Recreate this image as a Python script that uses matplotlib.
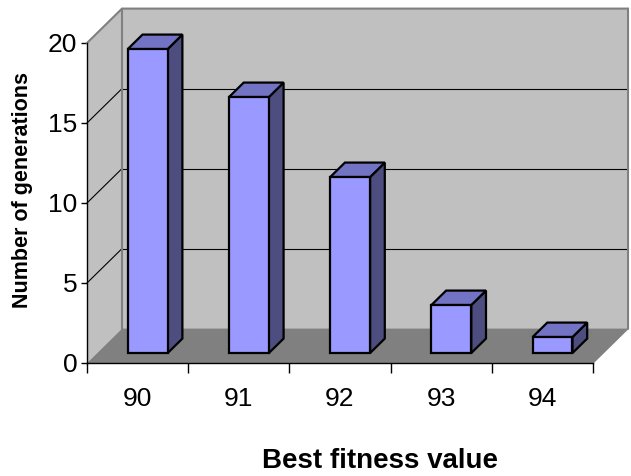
import matplotlib
matplotlib.use("Agg")
import matplotlib.pyplot as plt
from matplotlib.patches import Polygon

# Data
categories = ["90", "91", "92", "93", "94"]
generations = [19, 16, 11, 3, 1]
y_ticks = [0, 5, 10, 15, 20]

# Style
FONT = "Liberation Sans"
WALL = "#C0C0C0"
FLOOR = "#808080"
EDGE = "#808080"
BAR_FRONT = "#9999FF"
BAR_TOP = "#7373C4"
BAR_SIDE = "#4D4D80"

# Oblique projection of the depth axis (full depth in data units)
DX = 0.346   # along categories
DY = 2.15    # along values
Z0, Z1 = 0.29, 0.71   # bar depth span (fraction of full depth)
HALF_W = 0.197         # half bar width in category units

fig = plt.figure(figsize=(6.31, 4.76), dpi=100)
W, H = 631, 476
ax = fig.add_axes([87 / W, (H - 363) / H, 506 / W, 320 / H])
ax.set_xlim(-0.5, len(categories) - 0.5)
ax.set_ylim(y_ticks[0], y_ticks[-1])
ax.patch.set_visible(False)


def proj(x, y, z):
    return (x + z * DX, y + z * DY)


def poly(pts, fc, ec="none", lw=0.0, z=1):
    p = Polygon(pts, closed=True, facecolor=fc, edgecolor=ec, linewidth=lw,
                joinstyle="miter", clip_on=False, zorder=z)
    ax.add_patch(p)


x0, x1 = -0.5, len(categories) - 0.5
y0, y1 = y_ticks[0], y_ticks[-1]

# Back wall
poly([proj(x0, y0, 1), proj(x1, y0, 1), proj(x1, y1, 1), proj(x0, y1, 1)], WALL, z=1)
# Left wall
poly([proj(x0, y0, 0), proj(x0, y0, 1), proj(x0, y1, 1), proj(x0, y1, 0)], WALL, z=1)
# Floor
poly([proj(x0, y0, 0), proj(x1, y0, 0), proj(x1, y0, 1), proj(x0, y0, 1)], FLOOR, z=1.5)

# Gridlines on the walls
for v in y_ticks[1:-1]:
    bx, by = zip(proj(x0, v, 1), proj(x1, v, 1))
    ax.plot(bx, by, color="black", lw=0.8, clip_on=False, zorder=2)
    lx, ly = zip(proj(x0, v, 0), proj(x0, v, 1))
    ax.plot(lx, ly, color="black", lw=0.8, clip_on=False, zorder=2)

# Wall borders
border = [proj(x0, y1, 0), proj(x0, y1, 1), proj(x1, y1, 1), proj(x1, y0, 1)]
bx, by = zip(*border)
ax.plot(bx, by, color=EDGE, lw=1.5, clip_on=False, zorder=2.5, solid_joinstyle="miter")
cx, cy = zip(proj(x0, y0, 1), proj(x0, y1, 1))
ax.plot(cx, cy, color=EDGE, lw=1.5, clip_on=False, zorder=2.5)
fx, fy = zip(proj(x1, y0, 0), proj(x1, y0, 1))
ax.plot(fx, fy, color=EDGE, lw=1.0, clip_on=False, zorder=2.5)

# Bars as boxes
for i, v in enumerate(generations):
    l, r = i - HALF_W, i + HALF_W
    front = [proj(l, 0, Z0), proj(r, 0, Z0), proj(r, v, Z0), proj(l, v, Z0)]
    top = [proj(l, v, Z0), proj(r, v, Z0), proj(r, v, Z1), proj(l, v, Z1)]
    side = [proj(r, 0, Z0), proj(r, 0, Z1), proj(r, v, Z1), proj(r, v, Z0)]
    poly(side, BAR_SIDE, "black", 1.6, z=3)
    poly(top, BAR_TOP, "black", 1.6, z=3)
    poly(front, BAR_FRONT, "black", 1.6, z=3.1)

# Front axes
for s in ("top", "right"):
    ax.spines[s].set_visible(False)
for s in ("left", "bottom"):
    ax.spines[s].set_color("black")
    ax.spines[s].set_linewidth(1.0)
    ax.spines[s].set_zorder(4)

ax.set_yticks(y_ticks)
ax.set_yticklabels([str(t) for t in y_ticks], fontfamily=FONT, fontsize=19)
ax.tick_params(axis="y", direction="out", length=4, width=1, pad=3)

ax.set_xticks([i - 0.5 for i in range(len(categories) + 1)])
ax.set_xticklabels([])
ax.tick_params(axis="x", which="major", direction="out", length=7, width=1)
ax.set_xticks(range(len(categories)), minor=True)
ax.set_xticklabels(categories, minor=True, fontfamily=FONT, fontsize=19)
ax.tick_params(axis="x", which="minor", length=0, pad=17)

ax.set_xlabel("Best fitness value", fontfamily=FONT, fontsize=20, fontweight="bold")
ax.xaxis.set_label_coords((380 - 87) / 506, -(448 - 363) / 320)
ax.set_ylabel("Number of generations", fontfamily=FONT, fontsize=15.5, fontweight="bold")
ax.yaxis.set_label_coords(-(87 - 33) / 506, (363 - 190) / 320)

fig.savefig("out.png", dpi=100)
